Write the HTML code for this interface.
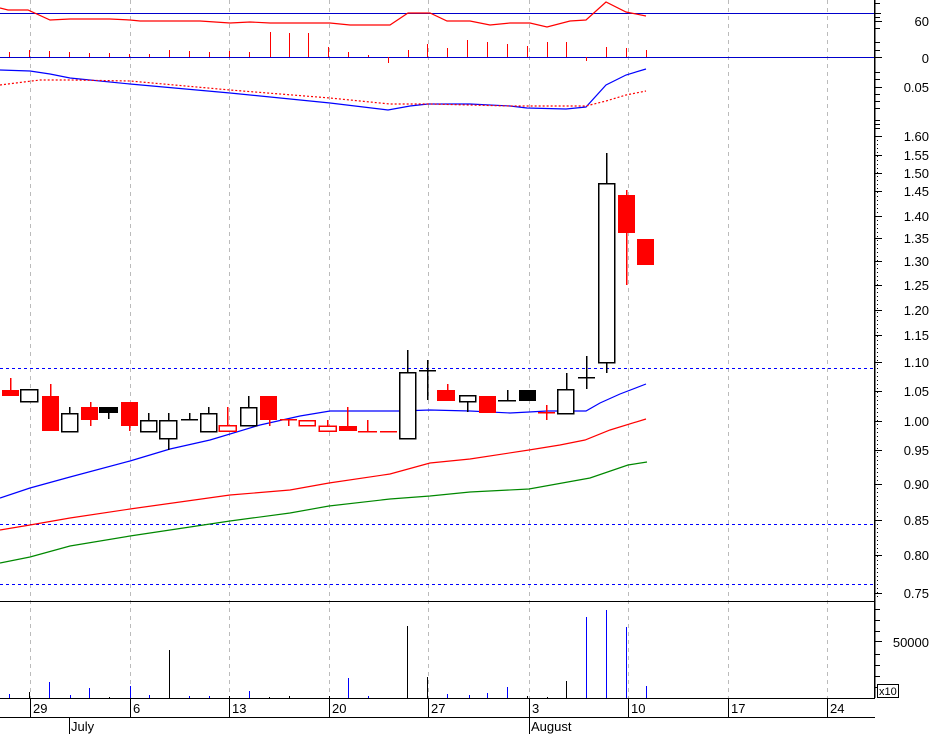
<!DOCTYPE html>
<html><head><meta charset="utf-8"><style>
html,body{margin:0;padding:0;background:#fff;}
svg{display:block;font-family:"Liberation Sans",sans-serif;}
</style></head><body>
<svg width="932" height="734" viewBox="0 0 932 734" xmlns="http://www.w3.org/2000/svg" shape-rendering="crispEdges">
<rect width="932" height="734" fill="#fff"/>
<!-- grid -->
<g stroke="#bbb" stroke-dasharray="4,4" stroke-width="1">
<line x1="30.5" y1="0" x2="30.5" y2="698"/><line x1="130.5" y1="0" x2="130.5" y2="698"/>
<line x1="229.5" y1="0" x2="229.5" y2="698"/><line x1="329.5" y1="0" x2="329.5" y2="698"/>
<line x1="428.5" y1="0" x2="428.5" y2="698"/><line x1="529.5" y1="0" x2="529.5" y2="698"/>
<line x1="628.5" y1="0" x2="628.5" y2="698"/><line x1="728.5" y1="0" x2="728.5" y2="698"/>
<line x1="827.5" y1="0" x2="827.5" y2="698"/>
</g>
<!-- top panel -->
<line x1="0" y1="13.5" x2="875" y2="13.5" stroke="#00c" stroke-width="1"/>
<line x1="0" y1="57.5" x2="875" y2="57.5" stroke="#00c" stroke-width="1"/>
<g stroke="#f00" stroke-width="1">
<line x1="9.5" y1="57" x2="9.5" y2="52"/><line x1="29.5" y1="57" x2="29.5" y2="50"/><line x1="49.5" y1="57" x2="49.5" y2="51"/>
<line x1="69.5" y1="57" x2="69.5" y2="52"/><line x1="89.5" y1="57" x2="89.5" y2="53"/><line x1="109.5" y1="57" x2="109.5" y2="53"/>
<line x1="129.5" y1="57" x2="129.5" y2="54"/><line x1="149.5" y1="57" x2="149.5" y2="54"/><line x1="169.5" y1="57" x2="169.5" y2="50"/>
<line x1="189.5" y1="57" x2="189.5" y2="51"/><line x1="209.5" y1="57" x2="209.5" y2="52"/><line x1="229.5" y1="57" x2="229.5" y2="51"/>
<line x1="249.5" y1="57" x2="249.5" y2="52"/><line x1="270.5" y1="57" x2="270.5" y2="32"/><line x1="289.5" y1="57" x2="289.5" y2="33"/>
<line x1="308.5" y1="57" x2="308.5" y2="33"/><line x1="328.5" y1="57" x2="328.5" y2="47"/><line x1="348.5" y1="57" x2="348.5" y2="52"/>
<line x1="368.5" y1="57" x2="368.5" y2="55"/><line x1="388.5" y1="57" x2="388.5" y2="63"/><line x1="408.5" y1="57" x2="408.5" y2="50"/>
<line x1="427.5" y1="57" x2="427.5" y2="44"/><line x1="447.5" y1="57" x2="447.5" y2="48"/><line x1="467.5" y1="57" x2="467.5" y2="40"/>
<line x1="487.5" y1="57" x2="487.5" y2="42"/><line x1="507.5" y1="57" x2="507.5" y2="44"/><line x1="527.5" y1="57" x2="527.5" y2="46"/>
<line x1="547.5" y1="57" x2="547.5" y2="42"/><line x1="566.5" y1="57" x2="566.5" y2="42"/><line x1="586.5" y1="57" x2="586.5" y2="61"/>
<line x1="606.5" y1="57" x2="606.5" y2="47"/><line x1="626.5" y1="57" x2="626.5" y2="48"/><line x1="646.5" y1="57" x2="646.5" y2="50"/>
</g>
<polyline fill="none" stroke="#f00" stroke-width="1.2" shape-rendering="auto" points="0,8 8,10 28,10 50,20 70,19 90,19 110,19 130,20 140,21 200,21 230,23 250,22 270,23 330,23 350,25 390,25 408,13 430,13 447,21 470,21 490,25 510,23 530,23 547,27 570,21 586,20 606,2 626,12 646,16"/>
<!-- second panel -->
<polyline fill="none" stroke="#00f" stroke-width="1.2" shape-rendering="auto" points="0,70 30,71 50,74 70,78 130,84 230,93 330,103 388,110 410,106 428,104 470,104 510,106 527,108 566,109 586,107 606,85 626,75 646,69"/>
<polyline fill="none" stroke="#f00" stroke-width="1.2" stroke-dasharray="2,2" shape-rendering="auto" points="0,85 40,80 70,80 130,81 230,90 330,98 390,104 430,104 510,106 586,106 606,101 626,95 646,91"/>
<!-- main dashed levels -->
<g stroke="#00f" stroke-dasharray="3,3" stroke-width="1">
<line x1="0" y1="368.5" x2="875" y2="368.5"/><line x1="0" y1="524.5" x2="875" y2="524.5"/><line x1="0" y1="584.5" x2="875" y2="584.5"/>
</g>
<!-- moving averages -->
<polyline fill="none" stroke="#080" stroke-width="1.2" shape-rendering="auto" points="0,563 30,557 70,546 130,536 230,521 290,513 329,506 390,499 430,496 470,492 529,489 590,478 628,465 647,462"/>
<polyline fill="none" stroke="#f00" stroke-width="1.2" shape-rendering="auto" points="0,530 30,525 70,518 130,509 230,495 290,490 329,483 390,474 430,463 470,459 529,450 560,445 585,440 610,430 646,419"/>
<polyline fill="none" stroke="#00f" stroke-width="1.2" shape-rendering="auto" points="0,498 30,488 70,477 130,461 170,449 210,440 260,425 300,416 330,411 370,411 400,411 430,410 470,411 510,413 529,412 547,411 586,411 600,403 620,394 646,384"/>
<!-- candles -->
<g stroke-width="1.5">
<!-- wicks -->
<g stroke="#f00">
<line x1="10.5" y1="378" x2="10.5" y2="390"/><line x1="50.5" y1="384" x2="50.5" y2="396"/>
<line x1="90.5" y1="402" x2="90.5" y2="426"/><line x1="129.5" y1="402" x2="129.5" y2="431"/>
<line x1="227.5" y1="407" x2="227.5" y2="425"/><line x1="269.5" y1="396" x2="269.5" y2="426"/>
<line x1="288.5" y1="419" x2="288.5" y2="426"/><line x1="327.5" y1="420" x2="327.5" y2="426"/>
<line x1="347.5" y1="407" x2="347.5" y2="426"/><line x1="367.5" y1="420" x2="367.5" y2="431"/>
<line x1="447.5" y1="384" x2="447.5" y2="390"/><line x1="546.5" y1="405" x2="546.5" y2="420"/>
<line x1="626.5" y1="190" x2="626.5" y2="285"/>
<line x1="280" y1="419.5" x2="297" y2="419.5"/><line x1="358" y1="431.5" x2="377" y2="431.5"/>
<line x1="380" y1="431.5" x2="397" y2="431.5"/><line x1="538" y1="412.5" x2="555" y2="412.5"/>
</g>
<g stroke="#000">
<line x1="69.5" y1="407" x2="69.5" y2="413"/><line x1="108.5" y1="413" x2="108.5" y2="419"/>
<line x1="148.5" y1="413" x2="148.5" y2="420"/><line x1="168.5" y1="413" x2="168.5" y2="450"/>
<line x1="189.5" y1="413" x2="189.5" y2="419"/><line x1="181" y1="419.5" x2="198" y2="419.5"/>
<line x1="208.5" y1="407" x2="208.5" y2="413"/><line x1="248.5" y1="396" x2="248.5" y2="407"/>
<line x1="407.5" y1="350" x2="407.5" y2="372"/><line x1="427.5" y1="360" x2="427.5" y2="400"/>
<line x1="419" y1="370.5" x2="436" y2="370.5"/><line x1="467.5" y1="401" x2="467.5" y2="412"/>
<line x1="507.5" y1="390" x2="507.5" y2="400"/><line x1="498" y1="400.5" x2="516" y2="400.5"/>
<line x1="566.5" y1="373" x2="566.5" y2="389"/><line x1="586.5" y1="356" x2="586.5" y2="389"/>
<line x1="578" y1="377.5" x2="595" y2="377.5"/><line x1="606.5" y1="153" x2="606.5" y2="183"/>
<line x1="606.5" y1="362" x2="606.5" y2="373"/>
</g>
<!-- red filled bodies -->
<g fill="#f00" stroke="none">
<rect x="2" y="390" width="17" height="6"/><rect x="42" y="396" width="17" height="35"/>
<rect x="81" y="407" width="17" height="13"/><rect x="121" y="402" width="17" height="24"/>
<rect x="260" y="396" width="17" height="24"/><rect x="339" y="426" width="18" height="5"/>
<rect x="437" y="390" width="18" height="11"/><rect x="479" y="396" width="17" height="17"/>
<rect x="618" y="195" width="17" height="38"/><rect x="637" y="239" width="17" height="26"/>
</g>
<!-- red outline bodies -->
<g fill="#fff" stroke="#f00">
<rect x="219" y="425.5" width="17" height="5.5"/><rect x="299" y="420.5" width="16" height="5"/>
<rect x="319" y="426" width="17" height="5"/>
</g>
<!-- black filled -->
<g fill="#000" stroke="none">
<rect x="99" y="407" width="19" height="6"/><rect x="519" y="390" width="17" height="11"/>
</g>
<!-- white bodies -->
<g fill="#fff" stroke="#000">
<rect x="20.5" y="389.5" width="17" height="12"/><rect x="61.5" y="413.5" width="16" height="18"/>
<rect x="140.5" y="420.5" width="16" height="11"/><rect x="159.5" y="420.5" width="17" height="18"/>
<rect x="200.5" y="413.5" width="16" height="18"/><rect x="240.5" y="407.5" width="16" height="18"/>
<rect x="399.5" y="372.5" width="16" height="66"/><rect x="459.5" y="395.5" width="16" height="6"/>
<rect x="557.5" y="389.5" width="16" height="24"/><rect x="598.5" y="183.5" width="16" height="179"/>
</g>
</g>
<!-- panel borders -->
<line x1="0" y1="601.5" x2="875" y2="601.5" stroke="#000"/>
<line x1="0" y1="698.5" x2="875" y2="698.5" stroke="#000"/>
<line x1="0" y1="717.5" x2="875" y2="717.5" stroke="#000"/>
<line x1="874.5" y1="0" x2="874.5" y2="698" stroke="#000" stroke-width="1.5"/>
<!-- volume bars -->
<g stroke="#00f" stroke-width="1">
<line x1="9.5" y1="698" x2="9.5" y2="694"/><line x1="49.5" y1="698" x2="49.5" y2="682"/><line x1="70.5" y1="698" x2="70.5" y2="695"/>
<line x1="89.5" y1="698" x2="89.5" y2="688"/><line x1="130.5" y1="698" x2="130.5" y2="686"/><line x1="149.5" y1="698" x2="149.5" y2="695"/>
<line x1="249.5" y1="698" x2="249.5" y2="691"/><line x1="189.5" y1="698" x2="189.5" y2="696"/><line x1="209.5" y1="698" x2="209.5" y2="696"/>
<line x1="348.5" y1="698" x2="348.5" y2="678"/><line x1="368.5" y1="698" x2="368.5" y2="696"/><line x1="447.5" y1="698" x2="447.5" y2="694"/>
<line x1="469.5" y1="698" x2="469.5" y2="695"/><line x1="487.5" y1="698" x2="487.5" y2="693"/><line x1="507.5" y1="698" x2="507.5" y2="687"/>
<line x1="586.5" y1="698" x2="586.5" y2="617"/><line x1="606.5" y1="698" x2="606.5" y2="610"/><line x1="626.5" y1="698" x2="626.5" y2="627"/>
<line x1="646.5" y1="698" x2="646.5" y2="686"/>
</g>
<g stroke="#000" stroke-width="1">
<line x1="29.5" y1="698" x2="29.5" y2="692"/><line x1="109.5" y1="698" x2="109.5" y2="697"/><line x1="169.5" y1="698" x2="169.5" y2="650"/>
<line x1="229.5" y1="698" x2="229.5" y2="696"/><line x1="269.5" y1="698" x2="269.5" y2="697"/><line x1="289.5" y1="698" x2="289.5" y2="696"/>
<line x1="329.5" y1="698" x2="329.5" y2="696"/><line x1="407.5" y1="698" x2="407.5" y2="626"/><line x1="427.5" y1="698" x2="427.5" y2="677"/>
<line x1="527.5" y1="698" x2="527.5" y2="696"/><line x1="547.5" y1="698" x2="547.5" y2="697"/><line x1="566.5" y1="698" x2="566.5" y2="681"/>
</g>
<!-- right axis ticks -->
<g stroke="#000" stroke-width="1">
<line x1="875" y1="3.5" x2="880" y2="3.5"/><line x1="875" y1="13.5" x2="881" y2="13.5"/><line x1="875" y1="17.5" x2="880" y2="17.5"/>
<line x1="875" y1="21.5" x2="882" y2="21.5"/><line x1="875" y1="28.5" x2="880" y2="28.5"/><line x1="875" y1="42.5" x2="880" y2="42.5"/>
<line x1="875" y1="50.5" x2="880" y2="50.5"/><line x1="875" y1="57.5" x2="882" y2="57.5"/>
<line x1="875" y1="72.5" x2="880" y2="72.5"/><line x1="875" y1="79.5" x2="880" y2="79.5"/><line x1="875" y1="87.5" x2="882" y2="87.5"/>
<line x1="875" y1="94.5" x2="880" y2="94.5"/><line x1="875" y1="101.5" x2="880" y2="101.5"/><line x1="875" y1="108.5" x2="880" y2="108.5"/>
<line x1="875" y1="120.5" x2="880" y2="120.5"/><line x1="875" y1="124.5" x2="880" y2="124.5"/><line x1="875" y1="128.5" x2="880" y2="128.5"/>
<line x1="875" y1="136.5" x2="882" y2="136.5"/><line x1="875" y1="155.5" x2="882" y2="155.5"/><line x1="875" y1="173.5" x2="882" y2="173.5"/>
<line x1="875" y1="191.5" x2="882" y2="191.5"/><line x1="875" y1="216.5" x2="882" y2="216.5"/><line x1="875" y1="238.5" x2="882" y2="238.5"/>
<line x1="875" y1="261.5" x2="882" y2="261.5"/><line x1="875" y1="285.5" x2="882" y2="285.5"/><line x1="875" y1="310.5" x2="882" y2="310.5"/>
<line x1="875" y1="335.5" x2="882" y2="335.5"/><line x1="875" y1="362.5" x2="882" y2="362.5"/><line x1="875" y1="391.5" x2="882" y2="391.5"/>
<line x1="875" y1="421.5" x2="882" y2="421.5"/><line x1="875" y1="450.5" x2="882" y2="450.5"/><line x1="875" y1="484.5" x2="882" y2="484.5"/>
<line x1="875" y1="520.5" x2="882" y2="520.5"/><line x1="875" y1="555.5" x2="882" y2="555.5"/><line x1="875" y1="593.5" x2="882" y2="593.5"/>
<line x1="875" y1="609.5" x2="880" y2="609.5"/><line x1="875" y1="620.5" x2="880" y2="620.5"/><line x1="875" y1="631.5" x2="880" y2="631.5"/>
<line x1="875" y1="641.5" x2="882" y2="641.5"/><line x1="875" y1="654.5" x2="880" y2="654.5"/><line x1="875" y1="665.5" x2="880" y2="665.5"/>
<line x1="875" y1="676.5" x2="880" y2="676.5"/><line x1="875" y1="687.5" x2="880" y2="687.5"/>
</g>
<g stroke="#000" stroke-width="1" stroke-dasharray="1,3">
<line x1="877.5" y1="140" x2="877.5" y2="600"/>
</g>
<!-- right labels -->
<g font-size="13" fill="#000" text-anchor="end">
<text x="929" y="26">60</text><text x="929" y="63">0</text><text x="929" y="92">0.05</text>
<text x="929" y="141">1.60</text><text x="929" y="160">1.55</text><text x="929" y="178">1.50</text>
<text x="929" y="196">1.45</text><text x="929" y="221">1.40</text><text x="929" y="243">1.35</text>
<text x="929" y="266">1.30</text><text x="929" y="290">1.25</text><text x="929" y="315">1.20</text>
<text x="929" y="340">1.15</text><text x="929" y="367">1.10</text><text x="929" y="396">1.05</text>
<text x="929" y="426">1.00</text><text x="929" y="455">0.95</text><text x="929" y="489">0.90</text>
<text x="929" y="525">0.85</text><text x="929" y="560">0.80</text><text x="929" y="598">0.75</text>
<text x="929" y="647">50000</text>
</g>
<rect x="877.5" y="684.5" width="21" height="13" fill="#fff" stroke="#000"/>
<text x="879" y="695" font-size="11">x10</text>
<!-- date ticks -->
<g stroke="#000" stroke-width="1">
<line x1="30.5" y1="698" x2="30.5" y2="717"/><line x1="130.5" y1="698" x2="130.5" y2="717"/><line x1="229.5" y1="698" x2="229.5" y2="717"/>
<line x1="329.5" y1="698" x2="329.5" y2="717"/><line x1="428.5" y1="698" x2="428.5" y2="717"/><line x1="529.5" y1="698" x2="529.5" y2="734"/>
<line x1="628.5" y1="698" x2="628.5" y2="717"/><line x1="728.5" y1="698" x2="728.5" y2="717"/><line x1="827.5" y1="698" x2="827.5" y2="717"/>
<line x1="69.5" y1="717" x2="69.5" y2="734"/>
</g>
<g font-size="13" fill="#000">
<text x="33" y="713">29</text><text x="133" y="713">6</text><text x="232" y="713">13</text><text x="332" y="713">20</text>
<text x="431" y="713">27</text><text x="532" y="713">3</text><text x="631" y="713">10</text><text x="731" y="713">17</text>
<text x="830" y="713">24</text><text x="71" y="731">July</text><text x="531" y="731">August</text>
</g>
</svg>
</body></html>
